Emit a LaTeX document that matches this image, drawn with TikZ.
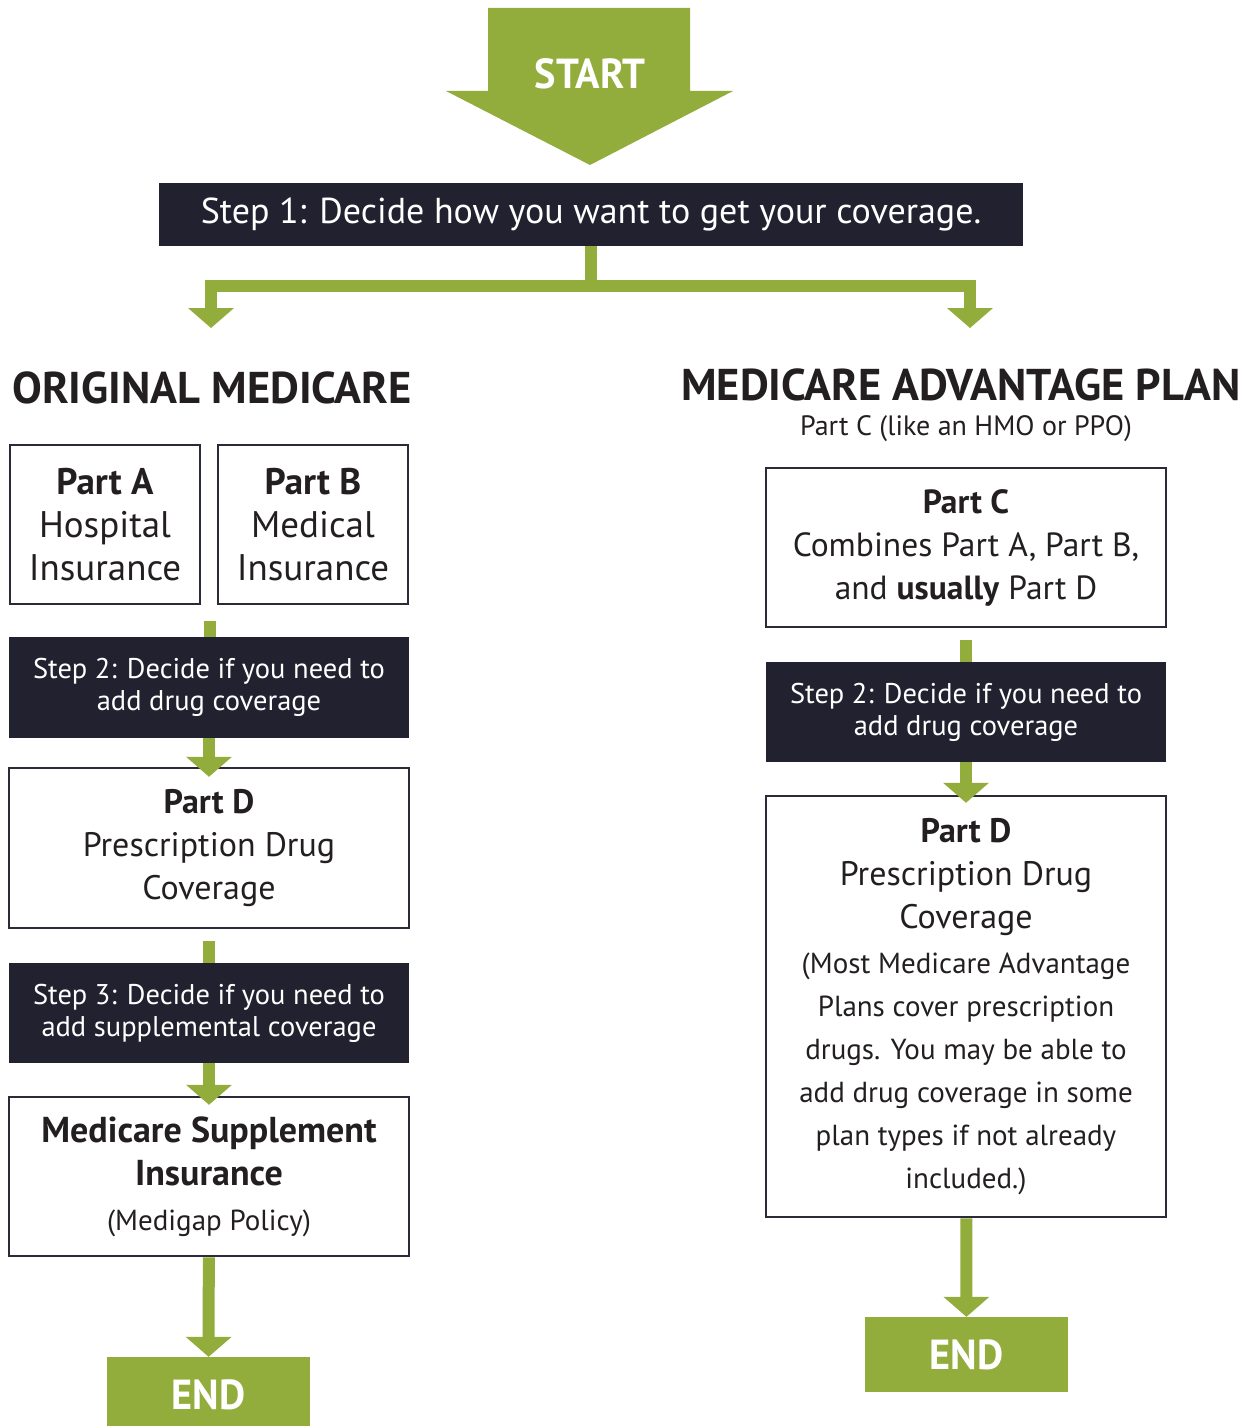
\documentclass[tikz,border=0pt]{standalone}
\usepackage{fontspec}
\setmainfont{PT Sans}
\usepackage{graphicx}
\usetikzlibrary{arrows.meta}

\definecolor{leaf}{RGB}{147,173,61}
\definecolor{navy}{RGB}{34,33,47}
\definecolor{boxline}{RGB}{43,42,56}
\definecolor{ink}{RGB}{35,31,32}

\newcommand{\fs}[2]{\fontsize{#1}{#2}\selectfont}
\newcommand{\sm}{\fs{29}{42.5}}
\newcommand{\tag}[1]{{\fs{42}{42}\scalebox{0.96}[1]{\bfseries #1}}}

\tikzset{
  whitebox/.style={draw=boxline, line width=2.5pt, fill=white, text=ink,
    align=center, inner sep=0pt},
  darkbox/.style={fill=navy, text=white, align=center, inner sep=0pt,
    font=\fs{28.5}{32}},
  endbox/.style={fill=leaf, text=white, inner sep=0pt,
    minimum width=203pt, minimum height=75pt},
  heading/.style={text=ink, inner sep=0pt, font=\fs{44.5}{48}\bfseries},
  stub/.style={draw=leaf, line width=12pt},
  flow/.style={draw=leaf, line width=12pt,
    -{Triangle[width=46pt,length=20pt,line width=0pt]}},
}

\begin{document}
\begin{tikzpicture}[x=1pt,y=-1pt]
\useasboundingbox (0,0) rectangle (1254,1426);
\fill[white] (0,0) rectangle (1254,1426);

% START block arrow
\fill[leaf] (488,8) -- (690,8) -- (690,91) -- (733,91) -- (590,165)
  -- (446,91) -- (488,91) -- cycle;
\node[text=white, inner sep=0pt] (start) at (590,74) {\tag{START}};

% step 1
\node[darkbox, font=\fs{36}{40}, minimum width=864pt, minimum height=63pt]
  (step1) at (591,214.5) {Step 1: Decide how you want to get your coverage.};

% column headings
\node[heading] (origT) at (212,388) {ORIGINAL MEDICARE};
\node[heading] (advT) at (961,385) {MEDICARE ADVANTAGE PLAN};
\node[text=ink, inner sep=0pt, font=\fs{28}{30}] (advSub) at (966,429)
  {Part C (like an HMO or PPO)};

% left column: Original Medicare
\node[whitebox, font=\fs{37}{43}, minimum width=190pt, minimum height=159pt]
  (partA) at (105,524.5) {\textbf{Part A}\\Hospital\\Insurance};
\node[whitebox, font=\fs{37}{43}, minimum width=190pt, minimum height=159pt]
  (partB) at (313,524.5) {\textbf{Part B}\\Medical\\Insurance};
\node[darkbox, minimum width=400pt, minimum height=101pt]
  (step2L) at (209,687.5) {Step 2: Decide if you need to\\add drug coverage};
\node[whitebox, font=\fs{34}{43}, minimum width=400pt, minimum height=160pt]
  (partDL) at (209,848) {\textbf{Part D}\\Prescription Drug\\Coverage};
\node[darkbox, minimum width=400pt, minimum height=100pt]
  (step3L) at (209,1013) {Step 3: Decide if you need to\\add supplemental coverage};
\node[whitebox, font=\fs{36}{43}, minimum width=400pt, minimum height=159pt]
  (suppL) at (209,1176.5)
  {\textbf{Medicare Supplement}\\\textbf{Insurance}\\[2pt]\fs{29}{43}(Medigap Policy)};
\node[endbox] (endL) at (208.5,1394.5) {\tag{END}};

% right column: Medicare Advantage
\node[whitebox, font=\fs{33.5}{43}, minimum width=400pt, minimum height=159pt]
  (partC) at (966,547.5)
  {\textbf{Part C}\\Combines Part A, Part B,\\and \textbf{usually} Part D};
\node[darkbox, minimum width=400pt, minimum height=100pt]
  (step2R) at (966,712) {Step 2: Decide if you need to\\add drug coverage};
\node[whitebox, font=\fs{34}{43}, minimum width=400pt, minimum height=421pt]
  (partDR) at (966,1006.5)
  {\textbf{Part D}\\Prescription Drug\\Coverage\\[2.5pt]
   \sm(Most Medicare Advantage\\\sm Plans cover prescription\\
   \sm drugs. You may be able to\\\sm add drug coverage in some\\
   \sm plan types if not already\\\sm included.)};
\node[endbox] (endR) at (966.5,1354.5) {\tag{END}};

% fork below step 1
\coordinate (bar) at (0,286);
\coordinate (tipL) at (211,328);
\coordinate (tipR) at (970,328);
\draw[flow, line join=miter] (step1.south) -- (step1.south |- bar) -| (tipL);
\draw[flow, line join=miter] (step1.south) -- (step1.south |- bar) -| (tipR);

% left column connectors
\coordinate (stubAB) at (210,621);
\draw[stub] (stubAB) -- (stubAB |- step2L.north);
\draw[flow, shorten >=-10pt] (step2L) -- (partDL);
\draw[stub, shorten <=12pt] (partDL) -- (step3L);
\draw[flow, shorten >=-9pt] (step3L) -- (suppL);
\draw[flow] (suppL) -- (endL);

% right column connectors
\draw[stub, shorten <=12pt] (partC) -- (step2R);
\draw[flow, shorten >=-8pt] (step2R) -- (partDR);
\draw[flow] (partDR) -- (endR);
\end{tikzpicture}
\end{document}
